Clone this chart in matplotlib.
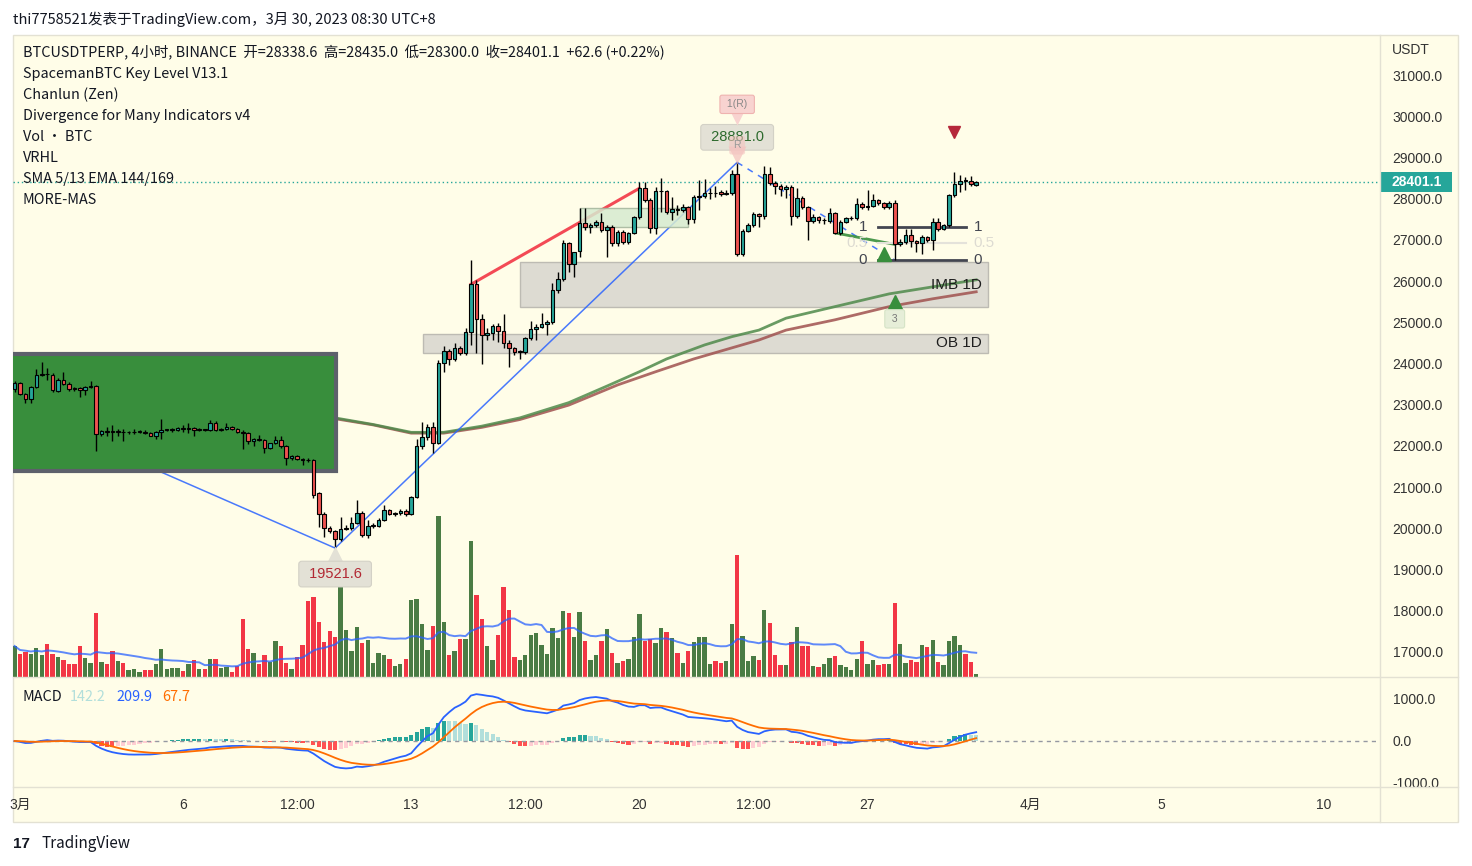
import numpy as np
import pandas as pd
import matplotlib
matplotlib.use("Agg")
import matplotlib.pyplot as plt
from matplotlib.patches import Rectangle
from matplotlib.lines import Line2D
from matplotlib.transforms import offset_copy, blended_transform_factory

W, H = 1472, 866
NARROW = ["Liberation Sans Narrow", "Noto Sans CJK SC", "DejaVu Sans"]
REG = ["Liberation Sans", "Noto Sans CJK SC", "DejaVu Sans"]

# ---- BTCUSDTPERP 4h, bar 0 = 3月1日 00:00 (UTC+8) ----
first_bar = -1
opens = [23380, 23530, 23260, 23130, 23430, 23730, 23750, 23720, 23340, 23610,
         23500, 23390, 23400, 23360, 23440, 23450, 22300, 22360, 22350, 22340,
         22350, 22330, 22330, 22350, 22350, 22310, 22240, 22330, 22390, 22390,
         22380, 22430, 22420, 22440, 22390, 22400, 22390, 22550, 22390, 22400,
         22450, 22400, 22330, 22310, 22120, 22180, 22140, 21960, 22060, 22140,
         21990, 21700, 21750, 21680, 21660, 21650, 20850, 20340, 20020, 19940,
         19740, 19990, 20010, 20130, 20370, 19840, 20060, 20060, 20200, 20440,
         20360, 20370, 20430, 20350, 20760, 22000, 22220, 22460, 22080, 24020,
         24310, 24120, 24370, 24250, 24760, 25920, 25070, 24700, 24740, 24910,
         24800, 24490, 24370, 24290, 24270, 24610, 24830, 24880, 24960, 25000,
         25780, 26040, 26920, 26410, 26720, 27400, 27310, 27360, 27440, 27240,
         27320, 26920, 27200, 26960, 27160, 27550, 28250, 27970, 27280, 28180,
         28190, 27680, 27760, 27720, 27790, 27500, 28030, 28070, 28130, 28140,
         28160, 28120, 28140, 28590, 26660, 27220, 27360, 27620, 27570, 28600,
         28380, 28310, 28230, 28280, 27580, 28010, 27800, 27460, 27560, 27470,
         27460, 27650, 27170, 27440, 27520, 27530, 27870, 27800, 27810, 27960,
         27890, 27790, 27890, 26890, 26960, 27120, 26970, 26930, 27060, 26990,
         27430, 27270, 27350, 28090, 28350, 28440, 28430, 28338.6]
highs = [23570, 23560, 23280, 23450, 23870, 24030, 23890, 23780, 23640, 23790,
         23550, 23440, 23420, 23460, 23570, 23480, 22390, 22470, 22500, 22400,
         22400, 22370, 22400, 22380, 22380, 22340, 22360, 22650, 22420, 22430,
         22450, 22500, 22560, 22460, 22430, 22420, 22620, 22600, 22430, 22560,
         22480, 22430, 22380, 22340, 22200, 22260, 22170, 22080, 22250, 22250,
         22020, 21790, 21790, 21710, 21700, 21680, 20880, 20400, 20060, 19970,
         20280, 20080, 20280, 20690, 20420, 20200, 20120, 20260, 20560, 20480,
         20400, 20460, 20460, 20790, 22180, 22590, 22520, 22570, 24090, 24420,
         24360, 24500, 24420, 24850, 26510, 26030, 25200, 24850, 24960, 24980,
         25190, 24560, 24400, 24330, 24640, 25040, 24960, 25220, 25060, 25950,
         26230, 27000, 26940, 26640, 27770, 27770, 27420, 27480, 27640, 27370,
         27360, 27230, 27230, 27190, 27590, 28410, 28410, 28010, 28280, 28500,
         28220, 28050, 27850, 27860, 27820, 28080, 28450, 28480, 28260, 28300,
         28200, 28200, 28690, 28881, 27260, 27400, 27680, 27660, 28790, 28760,
         28440, 28350, 28320, 28320, 28260, 28060, 27830, 27630, 27590, 27520,
         27770, 27680, 27470, 27560, 27570, 28010, 27910, 28210, 28110, 28000,
         27920, 27950, 27960, 27010, 27260, 27260, 27000, 27110, 27090, 27530,
         27530, 27390, 28110, 28650, 28570, 28530, 28560, 28435]
lows = [23310, 23230, 23030, 23030, 23400, 23690, 23600, 23320, 23300, 23480,
        23330, 23330, 23190, 23230, 23400, 21880, 22250, 22230, 22120, 22230,
        22120, 22290, 22280, 22310, 22290, 22230, 22160, 22170, 22360, 22350,
        22360, 22350, 22310, 22240, 22370, 22360, 22370, 22360, 22370, 22380,
        22380, 22310, 21920, 22050, 21990, 22110, 21830, 21930, 22040, 21960,
        21530, 21650, 21650, 21540, 21610, 20740, 20040, 19800, 19890, 19521.6,
        19700, 19960, 19960, 20110, 19800, 19760, 20000, 20030, 20180, 20330,
        20290, 20330, 20310, 20320, 20740, 21930, 22140, 21820, 22040, 23800,
        23960, 24050, 24200, 24200, 24440, 24250, 23990, 24560, 24560, 24520,
        24380, 23910, 24200, 24100, 24220, 24560, 24580, 24860, 24690, 24960,
        25700, 25990, 26230, 26110, 26590, 27230, 27170, 27300, 27180, 26590,
        26840, 26860, 26900, 26900, 27130, 27500, 27920, 27160, 27140, 27680,
        27620, 27480, 27600, 27680, 27380, 27400, 27730, 28010, 27990, 28050,
        28060, 28090, 28100, 26620, 26620, 27190, 27320, 27320, 27500, 28330,
        28120, 28060, 28010, 27360, 27520, 27740, 27000, 27420, 27410, 27380,
        27400, 27130, 27120, 27400, 27480, 27490, 27740, 27720, 27790, 27850,
        27750, 27760, 26510, 26860, 26900, 26830, 26710, 26660, 26950, 26750,
        27220, 27230, 27320, 28040, 28170, 28210, 28300, 28300]
closes = [23530, 23260, 23130, 23430, 23720, 23750, 23740, 23350, 23610, 23500,
          23380, 23380, 23360, 23440, 23450, 22300, 22360, 22350, 22340, 22350,
          22330, 22330, 22350, 22350, 22320, 22250, 22340, 22390, 22390, 22400,
          22430, 22420, 22430, 22390, 22400, 22390, 22550, 22390, 22400, 22450,
          22400, 22330, 22310, 22120, 22180, 22140, 21960, 22060, 22140, 21990,
          21700, 21750, 21680, 21670, 21650, 20810, 20340, 20020, 19940, 19740,
          19980, 20010, 20130, 20370, 19840, 20060, 20070, 20200, 20440, 20360,
          20370, 20430, 20350, 20760, 22000, 22220, 22460, 22080, 24020, 24310,
          24120, 24370, 24250, 24760, 25920, 25070, 24690, 24740, 24910, 24800,
          24490, 24370, 24290, 24300, 24610, 24830, 24880, 24960, 25000, 25780,
          26040, 26920, 26410, 26700, 27400, 27310, 27360, 27440, 27240, 27320,
          26920, 27200, 26960, 27160, 27550, 28250, 27970, 27280, 28180, 28190,
          27680, 27760, 27720, 27790, 27500, 28030, 28070, 28130, 28140, 28130,
          28120, 28140, 28590, 26660, 27220, 27360, 27620, 27570, 28600, 28380,
          28310, 28230, 28280, 27580, 28010, 27800, 27460, 27560, 27470, 27480,
          27650, 27170, 27440, 27520, 27530, 27870, 27800, 27810, 27960, 27890,
          27790, 27890, 26890, 26960, 27120, 26970, 26930, 27060, 26990, 27430,
          27270, 27350, 28090, 28350, 28440, 28430, 28350, 28401.1]
# volume (K BTC)
volumes = [31, 23, 25, 23, 29, 22, 33, 23, 20, 17, 13, 13, 31, 19, 14, 64, 15, 13, 26, 16,
           14, 7, 8, 5, 7, 7, 13, 28, 8, 9, 9, 6, 13, 17, 8, 8, 18, 18, 9, 10,
           5, 11, 58, 28, 24, 13, 22, 15, 36, 31, 14, 8, 20, 32, 76, 80, 55, 35, 46, 40,
           90, 47, 26, 50, 34, 37, 14, 24, 22, 18, 11, 13, 18, 77, 78, 53, 27, 51, 161, 55,
           22, 26, 38, 38, 136, 82, 58, 31, 17, 42, 90, 67, 20, 17, 22, 42, 44, 32, 23, 49,
           39, 66, 64, 40, 65, 36, 17, 22, 36, 48, 24, 14, 16, 18, 40, 63, 36, 38, 34, 49,
           45, 39, 24, 14, 26, 35, 40, 40, 13, 16, 14, 16, 53, 122, 41, 16, 21, 17, 67, 54,
           22, 12, 12, 35, 50, 31, 31, 11, 10, 13, 19, 21, 12, 10, 7, 18, 36, 13, 17, 12,
           13, 13, 74, 33, 14, 17, 15, 32, 30, 37, 15, 12, 36, 41, 32, 23, 15, 3]

price_ticks = list(range(17000, 31001, 1000))
macd_ticks = [1000, 0, -1000]
time_ticks = [0, 30, 51, 72, 93, 114, 135, 156, 186, 210, 240]
time_labels = ["3月", "6", "12:00", "13", "12:00", "20", "12:00", "27", "4月", "5", "10"]

# EMA 144 / 169 (bar, price)
ema144_bars = [58, 65, 72, 78, 85, 92, 101, 108, 114, 119, 126, 131, 136, 141, 150, 160, 168, 176]
ema144_vals = [22680, 22520, 22330, 22330, 22480, 22680, 23050, 23450, 23800, 24110, 24450,
               24650, 24810, 25100, 25380, 25690, 25860, 26030]
ema169_bars = [58, 65, 72, 78, 85, 92, 101, 110, 117, 124, 130, 136, 141, 150, 160, 168, 176]
ema169_vals = [22660, 22510, 22310, 22310, 22450, 22640, 22990, 23480, 23800, 24110, 24340,
               24570, 24810, 25060, 25380, 25570, 25740]

# drawings: (bar_from, bar_to, price_low, price_high)
green_box = (-6, 58.2, 21400, 24240)
imb_zone = (92, 178.2, 25377, 26454)
ob_zone = (74.2, 178.2, 24262, 24714)
consol_box = (103, 123, 27320, 27770)
stroke_bars = [20, 58, 132]
stroke_prices = [21710, 19521.6, 28881]
red_bars = [83, 114]
red_prices = [25920, 28250]
div_bars = [150, 161]
div_prices = [27170, 26890]
fib_bars = (158, 174.2)
fib_low, fib_high = 26510, 27320

o = np.array(opens, float)
h = np.array(highs, float)
l = np.array(lows, float)
c = np.array(closes, float)
v = np.array(volumes, float)
bars = np.arange(first_bar, first_bar + len(c))
up = c >= o

CREAM = "#fffde8"
TEAL = "#26a69a"
RED = "#ef5350"
BORDER = "#e3e1d3"

fig = plt.figure(figsize=(W / 100, H / 100), dpi=100, facecolor="white")


def px_axes(l_, t_, r_, b_):
    a = fig.add_axes([l_ / W, 1 - b_ / H, (r_ - l_) / W, (b_ - t_) / H])
    a.set_facecolor("none")
    for s in a.spines.values():
        s.set_visible(False)
    return a


def ftext(x, y, s, **kw):
    kw.setdefault("family", NARROW)
    kw.setdefault("va", "center")
    fig.text(x / W, 1 - y / H, s, **kw)


def fline(x0, y0, x1, y1, **kw):
    fig.add_artist(Line2D([x0 / W, x1 / W], [1 - y0 / H, 1 - y1 / H],
                          transform=fig.transFigure, color=BORDER, lw=1, **kw))


fig.add_artist(Rectangle((13 / W, 1 - 822 / H), (1458 - 13) / W, (822 - 35) / H,
                         transform=fig.transFigure, fc=CREAM, ec=BORDER, lw=1, zorder=-5))

XL = ((13 - 20) / 5.433, (1380 - 20) / 5.433)

# volume pane (overlay)
vax = px_axes(13, 35, 1380, 677)
vax.set_xlim(XL)
vax.set_ylim(0, 642)
vax.set_xticks([])
vax.set_yticks([])
vax.bar(bars, v, width=0.8, color=np.where(up, "#4a7c44", "#f23645"))
vma = pd.Series(v).rolling(20, min_periods=1).mean()
vax.plot(bars, vma, color="#2962ff", lw=1.4, alpha=0.75)

# main pane
ax = px_axes(13, 35, 1380, 677)
ax.set_xlim(XL)
ax.set_ylim(16393.3, 31970.6)
ax.set_xticks([])
ax.yaxis.tick_right()
ax.set_yticks(price_ticks, [f"{t:.1f}" for t in price_ticks])
ax.tick_params(axis="y", length=0, pad=9, labelsize=10, labelcolor="#333333")
for t in ax.get_yticklabels():
    t.set_family(REG)

# zones
for z in (imb_zone, ob_zone):
    ax.add_patch(Rectangle((z[0], z[2]), z[1] - z[0], z[3] - z[2], fc="#dddbd2", ec="#bdbbb3",
                           lw=1, zorder=1))
ax.add_patch(Rectangle((consol_box[0], consol_box[2]), consol_box[1] - consol_box[0],
                       consol_box[3] - consol_box[2], fc="#d6ebd0", ec="#a3b59c", lw=1,
                       alpha=0.85, zorder=3))
ax.text(imb_zone[1] - 1.1, (imb_zone[2] + imb_zone[3]) / 2, "IMB 1D", ha="right", va="center",
        fontsize=11, color="#1e1e1e", family=REG, zorder=6)
ax.text(ob_zone[1] - 1.1, (ob_zone[2] + ob_zone[3]) / 2, "OB 1D", ha="right", va="center",
        fontsize=11, color="#1e1e1e", family=REG, zorder=6)

# EMA 144/169
ax.plot(ema169_bars, ema169_vals, color="#a0524f", lw=2, alpha=0.85, zorder=2)
ax.plot(ema144_bars, ema144_vals, color="#4f8a4b", lw=2, alpha=0.85, zorder=2)

# chanlun strokes
ax.plot(stroke_bars, stroke_prices, color="#2962ff", lw=1.1, alpha=0.85, zorder=2)
ax.plot([stroke_bars[-1], 161], [stroke_prices[-1], 26510], color="#2962ff", lw=1.1,
        alpha=0.85, ls=(0, (4, 4)), zorder=2)
ax.plot(red_bars, red_prices, color="#f23645", lw=2.2, alpha=0.9, zorder=2)

# green box over early bars
ax.add_patch(Rectangle((green_box[0], green_box[2]), green_box[1] - green_box[0],
                       green_box[3] - green_box[2], fc="#388e3c", ec="#5d606b", lw=3, zorder=3))

# divergence + fib
ax.plot(div_bars, div_prices, color="#388e3c", lw=2, alpha=0.9, zorder=4)
fib_mid = (fib_low + fib_high) / 2
for lev, val, colr, lw in ((1, fib_high, "#434651", 2), (0.5, fib_mid, "#e4e2da", 1.5),
                           (0, fib_low, "#434651", 2)):
    ax.plot(fib_bars, [val, val], color=colr, lw=lw, zorder=4)
    tc = "#434651" if lev != 0.5 else "#dddbd2"
    ax.text(fib_bars[0] - 2.1, val, f"{lev:g}", ha="right", va="center", fontsize=11,
            color=tc, family=REG, zorder=4)
    ax.text(fib_bars[1] + 1.3, val, f"{lev:g}", ha="left", va="center", fontsize=11,
            color=tc, family=REG, zorder=4)

# candles
ax.vlines(bars, l, h, color="black", lw=1, zorder=5)
ax.bar(bars, np.maximum(np.abs(c - o), 15), bottom=np.minimum(o, c), width=0.66,
       color=np.where(up, TEAL, RED), edgecolor="black", lw=0.8, zorder=5)

# last price line + label
ax.axhline(c[-1], color=TEAL, lw=1, ls=(0, (1, 2)), zorder=4)
bt = blended_transform_factory(ax.transAxes, ax.transData)
ax.add_patch(Rectangle((1.0, c[-1] - 245), 72 / 1367, 490, transform=bt, fc=TEAL, ec="none",
                       clip_on=False, zorder=8))
ax.text(1.0 + 12 / 1367, c[-1], f"{c[-1]:.1f}", transform=bt, color="white", fontsize=10,
        fontweight="bold", va="center", ha="left", family=REG, clip_on=False, zorder=9)
ax.text(1.0 + 12 / 1367, 31607, "USDT", transform=bt, color="#333333", fontsize=10,
        va="center", ha="left", family=REG, clip_on=False)


def pointer(xk, yp, dy_px, marker, ms, colr, z, alpha=1.0):
    tr = offset_copy(ax.transData, fig=fig, x=0, y=dy_px, units="dots")
    ax.plot([xk], [yp], marker=marker, ms=ms, color=colr, mec="none", transform=tr,
            zorder=z, alpha=alpha)


def tag(xk, yp, s, dy_px, fc, ec, tc, fs, z, alpha=1.0):
    ax.annotate(s, xy=(xk, yp), xytext=(0, dy_px / 1.389), textcoords="offset points",
                ha="center", va="center", fontsize=fs, color=tc, family=REG, zorder=z,
                bbox=dict(boxstyle="round,pad=0.4,rounding_size=0.2", fc=fc, ec=ec, lw=0.8,
                          alpha=alpha))


# low tag
ilow = int(np.argmin(l))
pointer(bars[ilow], l[ilow], -7, "^", 13, "#e3e1d6", 7)
tag(bars[ilow], l[ilow], f" {l[ilow]:.1f} ", -26, "#e3e1d6", "#d3d1c6", "#b22833", 10.5, 7)
# high tag
ihigh = int(np.argmax(h))
tag(bars[ihigh], h[ihigh], f" {h[ihigh]:.1f} ", 25, "#e3e1d6", "#d3d1c6", "#2d6a2d", 10.5, 7)
pointer(bars[ihigh], h[ihigh], 7, "v", 13, "#f4c4c0", 8, 0.75)
tag(bars[ihigh], h[ihigh], "R", 17, "#f4c4c0", "none", "#999999", 7.5, 8, 0.6)
pointer(bars[ihigh], h[ihigh], 43, "v", 8, "#f8d3d0", 8)
tag(bars[ihigh], h[ihigh], " 1(R) ", 58, "#f8d3d0", "#efb3b0", "#888888", 7.5, 8)

# signal markers
ax.plot([159], [26657], marker="^", ms=10, color="#388e3c", zorder=6)
ax.plot([161], [25496], marker="^", ms=10, color="#388e3c", zorder=6)
tag(161, 25496, " 3 ", -17, "#e6eed8", "#d5e3c6", "#777777", 7.5, 6)
ax.plot([172], [29624], marker="v", ms=9, color="#b5283b", zorder=6)

# MACD pane
mx = px_axes(13, 677, 1380, 790)
mx.set_xlim(XL)
mx.set_ylim(-1166.7, 1523.8)
cs = pd.Series(c)
macd = cs.ewm(span=12, adjust=False).mean() - cs.ewm(span=26, adjust=False).mean()
signal = macd.ewm(span=9, adjust=False).mean()
hist = (macd - signal).values
prev = np.r_[0, hist[:-1]]
hcol = np.where(hist >= 0, np.where(hist > prev, "#26a69a", "#b2dfdb"),
                np.where(hist < prev, "#ff5252", "#ffcdd2"))
mx.axhline(0, color="#9598a1", lw=1, ls=(0, (3, 3)))
mx.bar(bars, hist, width=0.75, color=hcol)
mx.plot(bars, macd, color="#2962ff", lw=1.3)
mx.plot(bars, signal, color="#ff6d00", lw=1.3)
mx.yaxis.tick_right()
mx.set_yticks(macd_ticks, [f"{t:.1f}" for t in macd_ticks])
mx.tick_params(axis="y", length=0, pad=9, labelsize=10, labelcolor="#333333")
mx.set_xticks(time_ticks, time_labels)
mx.tick_params(axis="x", length=0, pad=6, labelsize=10, labelcolor="#333333")
for t in mx.get_yticklabels() + mx.get_xticklabels():
    t.set_family(REG)

# the time scale hides the lower half of the -1000 label
fig.add_artist(Rectangle((1381 / W, 1 - 821.5 / H), 76 / W, 35 / H, transform=fig.transFigure,
                         fc=CREAM, ec="none", zorder=20))

# frame lines
fline(1380, 35, 1380, 822, zorder=21)
fline(13, 677, 1458, 677, zorder=21)
fline(13, 787, 1458, 787, zorder=21)

# legend texts
legend = ["BTCUSDTPERP, 4小时, BINANCE  开=28338.6  高=28435.0  低=28300.0  收=28401.1  +62.6 (+0.22%)",
          "SpacemanBTC Key Level V13.1", "Chanlun (Zen)", "Divergence for Many Indicators v4",
          "Vol · BTC", "VRHL", "SMA 5/13 EMA 144/169", "MORE-MAS"]
for i, s in enumerate(legend):
    ftext(23, 53 + 21 * i, s, fontsize=10.4, color="#131722")

ftext(23, 697, "MACD", fontsize=10.4, color="#131722")
ftext(70, 697, "142.2", fontsize=10.4, color="#b2dfdb")
ftext(116, 697, "209.9", fontsize=10.4, color="#2962ff")
ftext(162, 697, "67.7", fontsize=10.4, color="#ff6d00")

ftext(13, 19, "thi7758521发表于TradingView.com，3月 30, 2023 08:30 UTC+8", fontsize=10.5,
      color="#131722")
ftext(13, 844, "17", fontsize=11, fontweight="heavy", color="#131722", family=REG)
ftext(42, 844, "TradingView", fontsize=11, color="#131722")

fig.savefig("out.png", dpi=100, facecolor="white")
